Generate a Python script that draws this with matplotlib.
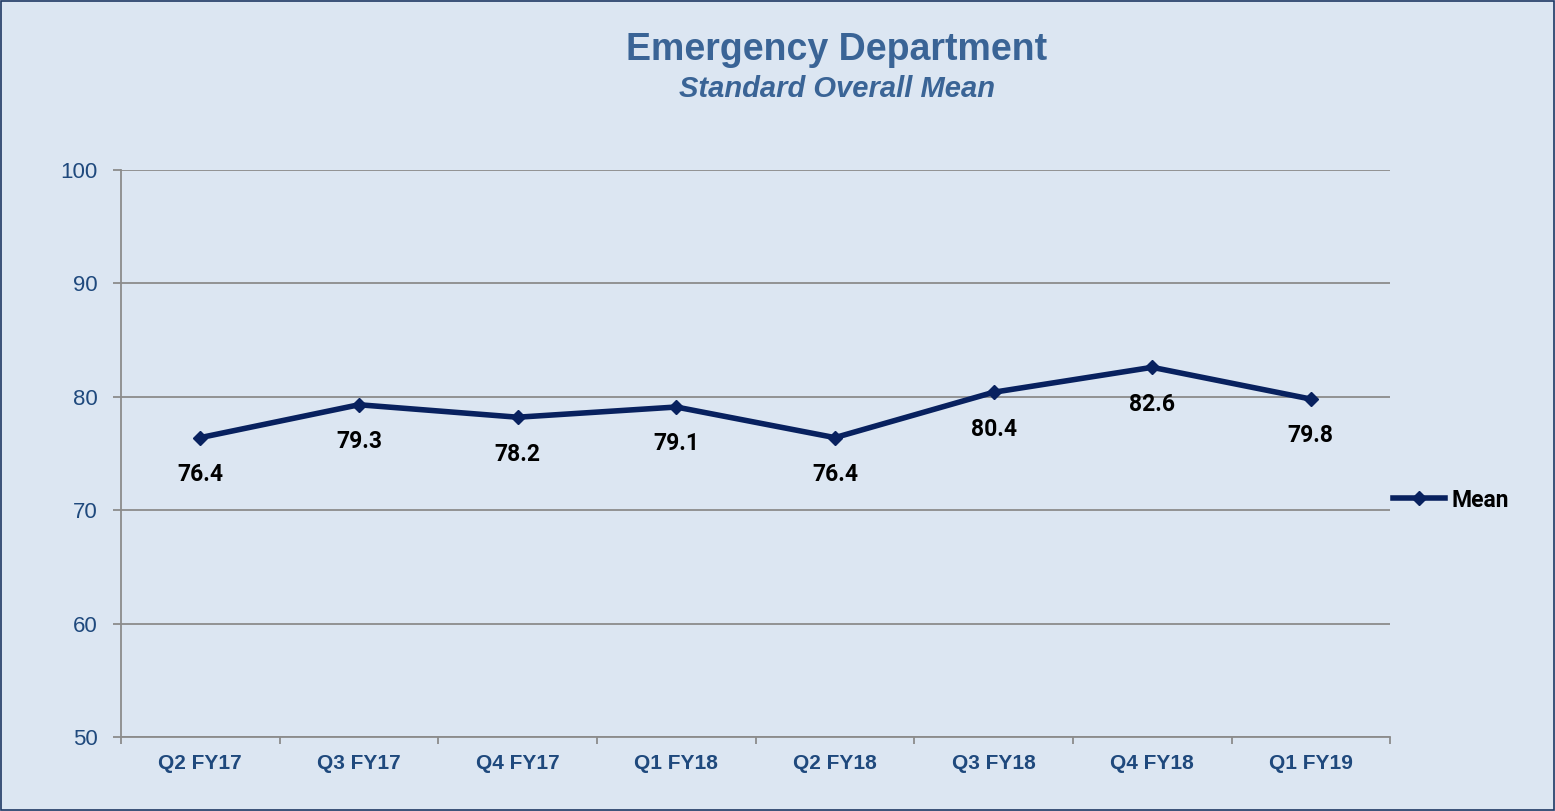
import matplotlib.pyplot as plt

quarters = ['Q2 FY17', 'Q3 FY17', 'Q4 FY17', 'Q1 FY18', 'Q2 FY18', 'Q3 FY18', 'Q4 FY18', 'Q1 FY19']
mean_scores = [76.4, 79.3, 78.2, 79.1, 76.4, 80.4, 82.6, 79.8]
y_ticks = [50, 60, 70, 80, 90, 100]

bg = '#dce6f2'
navy = '#08215f'
title_blue = '#3a6496'
tick_blue = '#1f497d'
grid_grey = '#8c8c8c'
label_font = 'Roboto'

fig = plt.figure(figsize=(15.55, 8.11), dpi=100, facecolor=bg)
fig.patches.append(plt.Rectangle((0.0005, 0.001), 0.999, 0.998, transform=fig.transFigure,
                                 fill=False, edgecolor='#1f3864', linewidth=1.2))
ax = fig.add_axes([0.0778, 0.0912, 0.8162, 0.6992])
ax.set_facecolor(bg)

x = list(range(len(quarters)))
ax.plot(x, mean_scores, color=navy, linewidth=4, marker='D', markersize=7,
        label='Mean', solid_joinstyle='round')

# value labels under each point
for xi, v in zip(x, mean_scores):
    ax.annotate(f'{v:.1f}', (xi, v), xytext=(0, -26.5), textcoords='offset points',
                ha='center', va='center', fontsize=16.5, fontweight='bold',
                family=label_font, color='black')

ax.set_xlim(-0.5, len(quarters) - 0.5)
ax.set_ylim(50, 100)
ax.set_yticks(y_ticks)
ax.set_yticklabels([str(t) for t in y_ticks], fontsize=16, color=tick_blue,
                   family='Liberation Sans')
ax.set_xticks(x)
ax.set_xticklabels(quarters, fontsize=15, fontweight='bold', color=tick_blue,
                   family='Liberation Sans')
ax.tick_params(axis='x', length=0, pad=12)
ax.set_xticks([i - 0.5 for i in range(len(quarters) + 1)], minor=True)
ax.tick_params(axis='x', which='minor', length=5, color=grid_grey, width=1.3, direction='out')
ax.tick_params(axis='y', length=6, color=grid_grey, width=1.3, direction='out', pad=11)

ax.grid(axis='y', color=grid_grey, linewidth=1.3)
ax.set_axisbelow(True)
for side in ['top', 'right']:
    ax.spines[side].set_visible(False)
for side in ['left', 'bottom']:
    ax.spines[side].set_color(grid_grey)
    ax.spines[side].set_linewidth(1.3)

leg = ax.legend(loc='center left', bbox_to_anchor=(1.002, 0.418), frameon=False,
                handlelength=2.3, handletextpad=0.25, borderpad=0, borderaxespad=0,
                numpoints=1, prop={'family': label_font, 'weight': 'bold', 'size': 16.5})

fig.text(0.538, 0.938, 'Emergency Department', ha='center', va='center',
         fontsize=27, fontweight='bold', color=title_blue, family='Liberation Sans')
fig.text(0.538, 0.890, 'Standard Overall Mean', ha='center', va='center',
         fontsize=21, fontweight='bold', fontstyle='italic', color=title_blue,
         family='Liberation Sans')

fig.savefig('out.png', dpi=100, facecolor=bg)
